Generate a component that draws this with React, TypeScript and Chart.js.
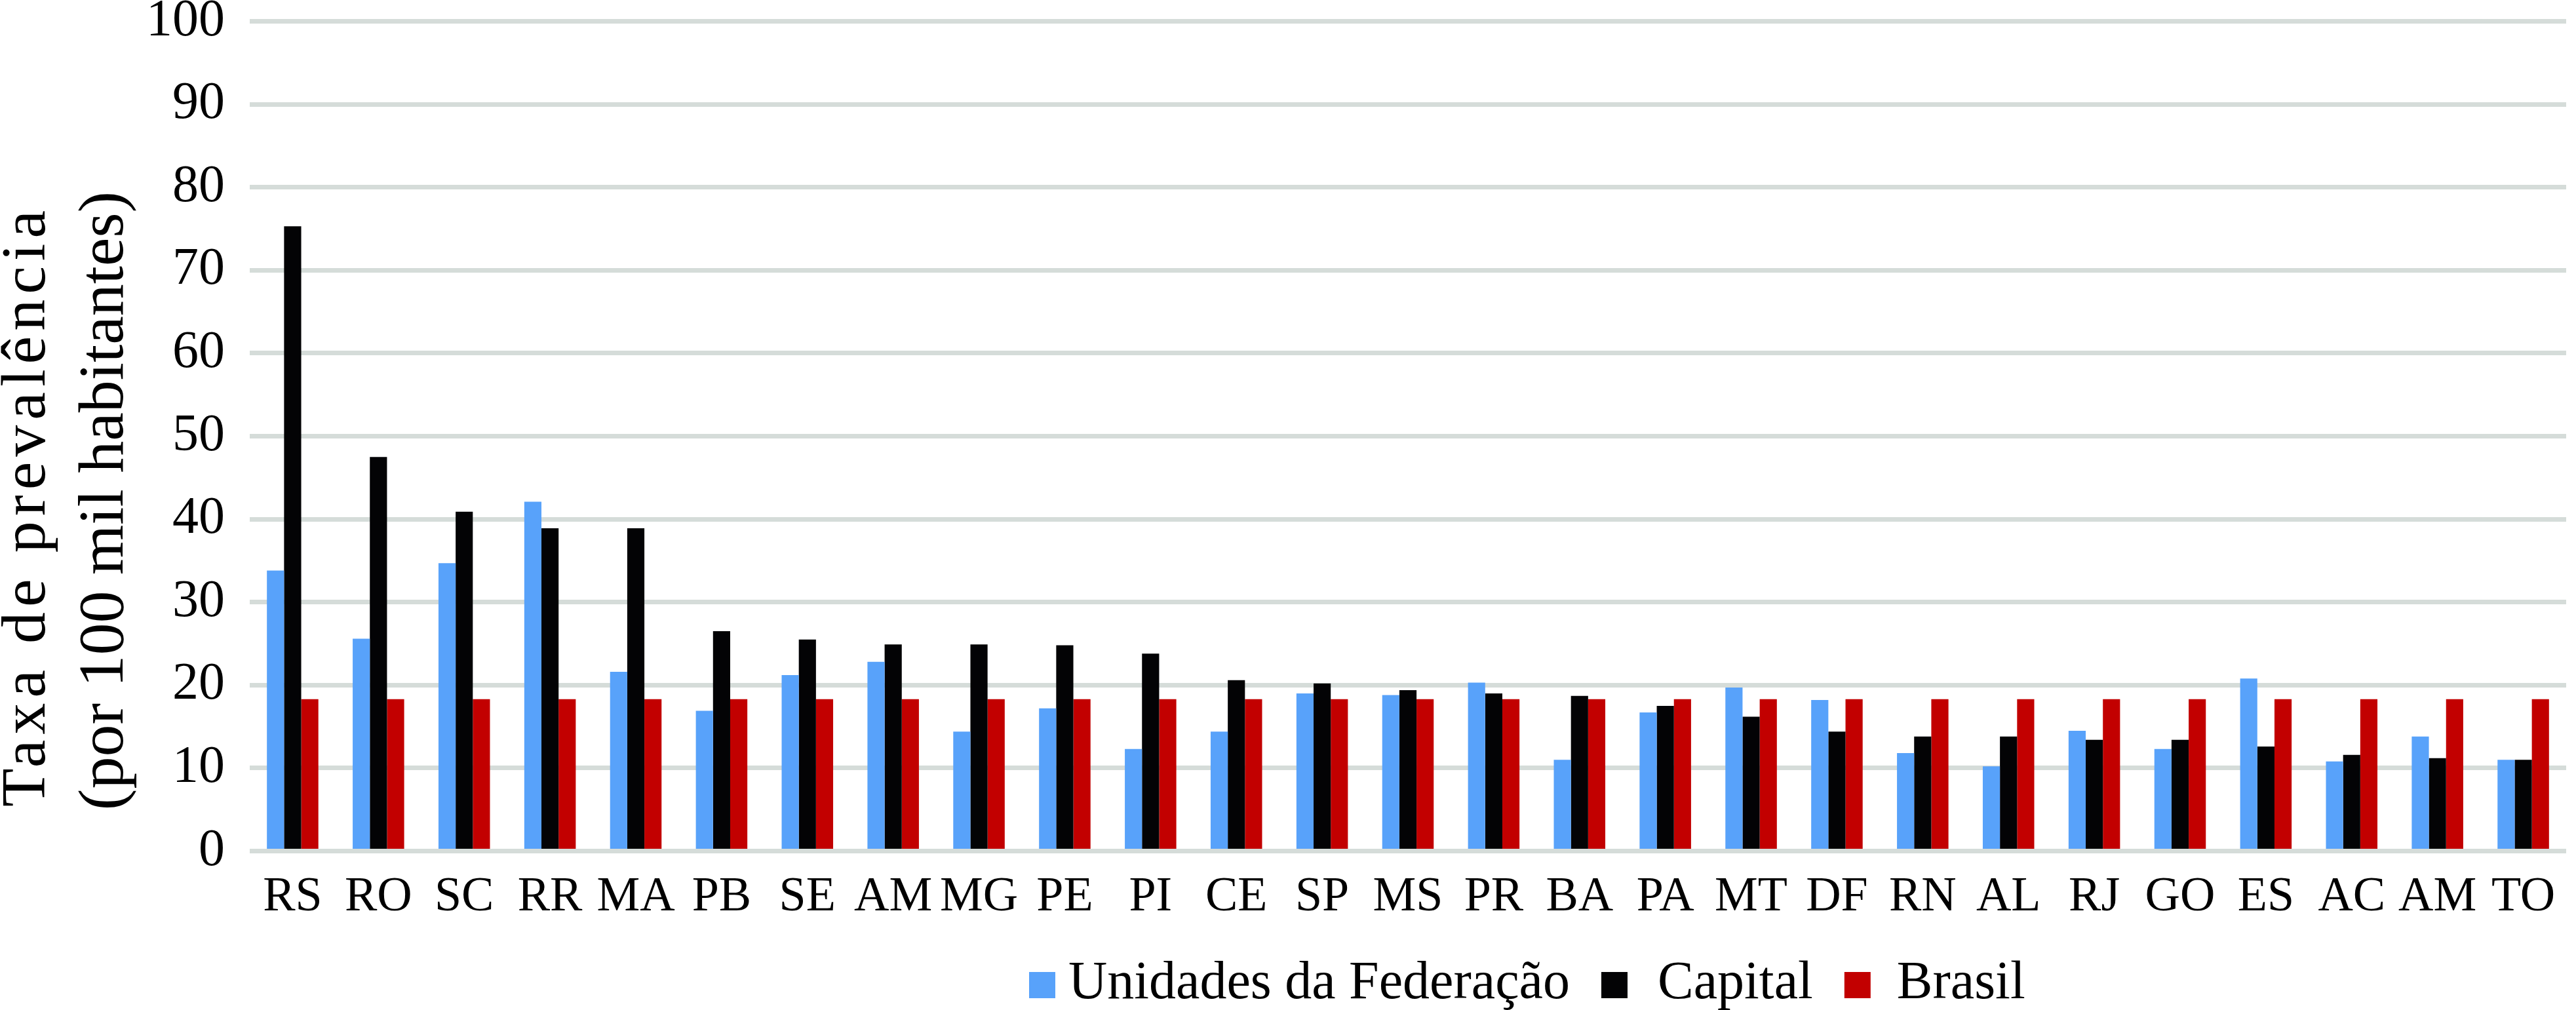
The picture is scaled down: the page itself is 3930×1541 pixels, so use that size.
import React, { useEffect, useRef } from "react";
import { Chart, registerables } from "chart.js";

Chart.register(...registerables);

const categories = ["RS", "RO", "SC", "RR", "MA", "PB", "SE", "AM", "MG", "PE", "PI", "CE", "SP", "MS", "PR", "BA", "PA", "MT", "DF", "RN", "AL", "RJ", "GO", "ES", "AC", "AM", "TO"];
const ufValues = [33.8, 25.6, 34.7, 42.1, 21.6, 16.9, 21.2, 22.8, 14.4, 17.2, 12.3, 14.4, 19.0, 18.8, 20.3, 11.0, 16.7, 19.7, 18.2, 11.8, 10.2, 14.5, 12.3, 20.8, 10.8, 13.8, 11.0];
const capitalValues = [75.3, 47.5, 40.9, 38.9, 38.9, 26.5, 25.5, 24.9, 24.9, 24.8, 23.8, 20.6, 20.2, 19.4, 19.0, 18.7, 17.5, 16.2, 14.4, 13.8, 13.8, 13.4, 13.4, 12.6, 11.6, 11.2, 11.0];
const brasilValues = [18.3, 18.3, 18.3, 18.3, 18.3, 18.3, 18.3, 18.3, 18.3, 18.3, 18.3, 18.3, 18.3, 18.3, 18.3, 18.3, 18.3, 18.3, 18.3, 18.3, 18.3, 18.3, 18.3, 18.3, 18.3, 18.3, 18.3];
const seriesNames = ["Unidades da Federação", "Capital", "Brasil"];
const seriesColors = ["#58A2FA", "#030305", "#C20000"];
const yTitleLines = ["Taxa de prevalência", "(por 100 mil habitantes)"];
const yMin = 0;
const yMax = 100;
const yStep = 10;

const FONT = '"Liberation Serif", "Times New Roman", serif';

const yTitlePlugin = {
  id: "yTitlePlugin",
  afterDraw(chart: any) {
    const ctx = chart.ctx;
    ctx.save();
    ctx.fillStyle = "#000";
    ctx.translate(0, 771);
    ctx.rotate(-Math.PI / 2);
    ctx.textAlign = "center";
    ctx.textBaseline = "alphabetic";
    ctx.font = `96px ${FONT}`;
    (ctx as any).letterSpacing = "8px";
    ctx.fillText(yTitleLines[0], -1, 68);
    (ctx as any).letterSpacing = "0px";
    ctx.font = `98px ${FONT}`;
    ctx.fillText(yTitleLines[1], 7, 187);
    ctx.restore();
  },
};

const legendPlugin = {
  id: "customLegend",
  afterDraw(chart: any) {
    const ctx = chart.ctx;
    const boxGaps = [20, 46, 40];
    ctx.save();
    ctx.font = `82px ${FONT}`;
    ctx.textAlign = "left";
    ctx.textBaseline = "alphabetic";
    let x = 1570;
    const baseline = 1523;
    chart.data.datasets.forEach((ds: any, i: number) => {
      ctx.fillStyle = ds.backgroundColor;
      ctx.fillRect(x, baseline - 40, 40, 40);
      x += 40 + boxGaps[i];
      ctx.fillStyle = "#000";
      ctx.fillText(ds.label, x, baseline);
      x += ctx.measureText(ds.label).width + 48;
    });
    ctx.restore();
  },
};

export default function App() {
  const canvasRef = useRef<HTMLCanvasElement | null>(null);

  useEffect(() => {
    if (!canvasRef.current) return;
    const values = [ufValues, capitalValues, brasilValues];
    const chart = new Chart(canvasRef.current, {
      type: "bar",
      data: {
        labels: categories,
        datasets: seriesNames.map((name, i) => ({
          label: name,
          data: values[i],
          backgroundColor: seriesColors[i],
          borderWidth: 0,
          categoryPercentage: 0.6,
          barPercentage: 1.0,
        })),
      },
      options: {
        animation: false,
        responsive: true,
        maintainAspectRatio: false,
        devicePixelRatio: 1,
        layout: { padding: { top: 32.5, right: 15, left: 0, bottom: 0 } },
        plugins: {
          legend: { display: false },
          title: { display: false },
          tooltip: { enabled: false },
        },
        scales: {
          x: {
            grid: { display: false, drawTicks: false },
            border: { display: false },
            ticks: {
              font: { family: FONT, size: 74 },
              color: "#000",
              padding: 27,
              maxRotation: 0,
              autoSkip: false,
            },
            afterFit: (s: any) => {
              s.height = 242.5;
              s.paddingLeft = 0;
              s.paddingRight = 0;
            },
          },
          y: {
            min: yMin,
            max: yMax,
            grid: { color: "#d5dcd9", lineWidth: 7, drawTicks: false },
            border: { display: false },
            ticks: {
              stepSize: yStep,
              font: { family: FONT, size: 80 },
              color: "#000",
              padding: 38,
            },
            afterFit: (s: any) => {
              s.width = 381;
              s.paddingTop = 0;
              s.paddingBottom = 0;
            },
          },
        },
      },
      plugins: [yTitlePlugin, legendPlugin],
    });
    return () => chart.destroy();
  }, []);

  return (
    <div style={{ position: "fixed", left: 0, top: 0, width: "3930px", height: "1541px", background: "#fff" }}>
      <canvas ref={canvasRef} style={{ width: "3930px", height: "1541px" }} />
    </div>
  );
}
